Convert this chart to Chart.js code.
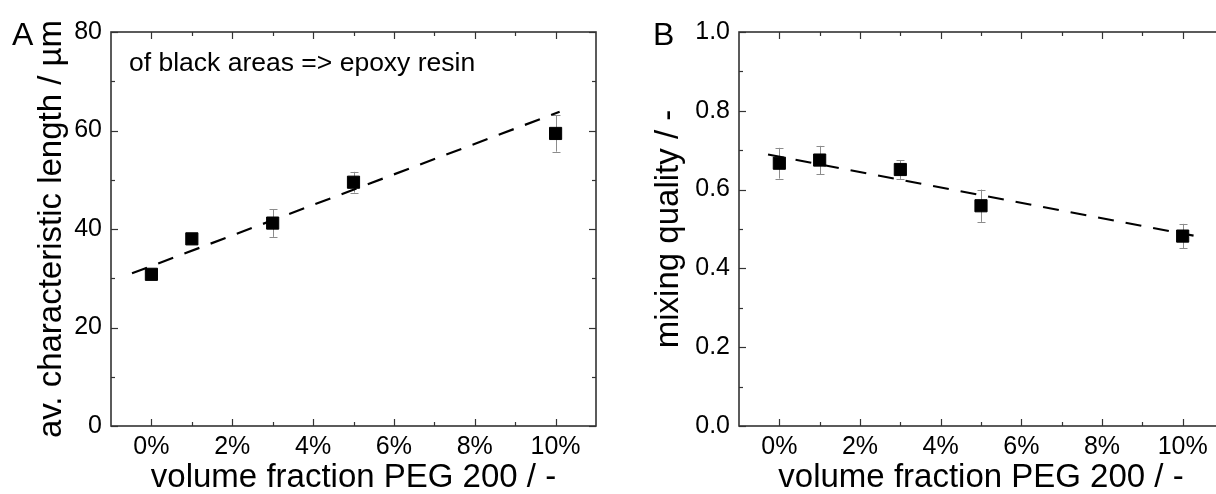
<!DOCTYPE html>
<html>
<head>
<meta charset="utf-8">
<script src="https://cdn.jsdelivr.net/npm/chart.js@4.4.1/dist/chart.umd.min.js"></script>
<style>
  html, body { margin: 0; padding: 0; background: #fff; }
  body { width: 1216px; height: 494px; overflow: hidden; position: relative; }
  .panel { position: absolute; top: 0; }
  #panelA { left: 0; width: 615px; height: 494px; }
  #panelB { left: 615px; width: 630px; height: 494px; }
</style>
</head>
<body>
<div class="panel" id="panelA"><canvas id="chartA" width="615" height="494"></canvas></div>
<div class="panel" id="panelB"><canvas id="chartB" width="630" height="494"></canvas></div>
<script>
// ---- data (volume fraction PEG 200 in %) ----
const categories = [0, 1, 3, 5, 10];
const lengthValues = [30.8, 38.0, 41.2, 49.5, 59.4];
const lengthErrors = [0.8, 0.5, 2.8, 2.1, 3.7];
const lengthFitX = [-0.48, 10.1];
const lengthFitY = [31.0, 63.8];
const qualityValues = [0.667, 0.675, 0.651, 0.559, 0.482];
const qualityErrors = [0.039, 0.036, 0.024, 0.041, 0.031];
const qualityFitX = [-0.28, 10.27];
const qualityFitY = [0.689, 0.483];
const xTicks = [0, 2, 4, 6, 8, 10];
const xMinorTicks = [1, 3, 5, 7, 9];
const lengthTicks = [0, 20, 40, 60, 80];
const lengthMinorTicks = [10, 30, 50, 70];
const qualityTicks = [0, 0.2, 0.4, 0.6, 0.8, 1.0];
const qualityMinorTicks = [0.1, 0.3, 0.5, 0.7, 0.9];
const xTitle = 'volume fraction PEG 200 / -';
const lengthTitle = 'av. characteristic length / µm';
const qualityTitle = 'mixing quality / -';
const annotationText = 'of black areas => epoxy resin';

const FAMILY = "'Liberation Sans', Arial, Helvetica, sans-serif";
const FRAME = '#333333';
Chart.defaults.font.family = FAMILY;
Chart.defaults.color = '#000';

function framePlugin(xMajor, xMinor, yMajor, yMinor) {
  return {
    id: 'frameTicks',
    beforeDatasetsDraw(chart) {
      const { ctx, chartArea: a, scales: { x, y } } = chart;
      ctx.save();
      ctx.strokeStyle = FRAME;
      ctx.lineWidth = 1.2;
      const seg = (x1, y1, x2, y2) => { ctx.beginPath(); ctx.moveTo(x1, y1); ctx.lineTo(x2, y2); ctx.stroke(); };
      const drawX = (vals, len) => vals.forEach(v => {
        const p = Math.round(x.getPixelForValue(v)) + 0.5;
        seg(p, a.bottom, p, a.bottom - len);
        seg(p, a.top, p, a.top + len);
      });
      const drawY = (vals, len) => vals.forEach(v => {
        const p = Math.round(y.getPixelForValue(v)) + 0.5;
        seg(a.left, p, a.left + len, p);
        seg(a.right, p, a.right - len, p);
      });
      drawX(xMajor, 7); drawX(xMinor, 4);
      drawY(yMajor, 7); drawY(yMinor, 4);
      ctx.lineWidth = 1.6;
      ctx.strokeRect(a.left, a.top, a.right - a.left, a.bottom - a.top);
      ctx.restore();
    }
  };
}

function errorBarPlugin(xs, vals, errs) {
  return {
    id: 'errorBars',
    beforeDatasetsDraw(chart) {
      const { ctx, scales: { x, y } } = chart;
      ctx.save();
      ctx.strokeStyle = '#8c8c8c';
      ctx.lineWidth = 1;
      xs.forEach((xv, i) => {
        const px = Math.round(x.getPixelForValue(xv)) + 0.5;
        const top = y.getPixelForValue(vals[i] + errs[i]);
        const bot = y.getPixelForValue(vals[i] - errs[i]);
        ctx.beginPath();
        ctx.moveTo(px, top); ctx.lineTo(px, bot);
        ctx.moveTo(px - 4, Math.round(top) + 0.5); ctx.lineTo(px + 4, Math.round(top) + 0.5);
        ctx.moveTo(px - 4, Math.round(bot) + 0.5); ctx.lineTo(px + 4, Math.round(bot) + 0.5);
        ctx.stroke();
      });
      ctx.restore();
    }
  };
}

function textPlugin(letter, letterX, annotation) {
  return {
    id: 'texts',
    afterDraw(chart) {
      const { ctx, chartArea: a } = chart;
      ctx.save();
      ctx.fillStyle = '#000';
      ctx.textBaseline = 'alphabetic';
      ctx.textAlign = 'left';
      ctx.font = '32px ' + FAMILY;
      ctx.fillText(letter, letterX, 45);
      if (annotation) {
        ctx.font = '26.5px ' + FAMILY;
        ctx.fillText(annotation, a.left + 18, a.top + 39);
      }
      ctx.restore();
    }
  };
}

function makeChart(canvasId, cfg) {
  const ctx = document.getElementById(canvasId);
  const points = categories.map((c, i) => ({ x: c, y: cfg.values[i] }));
  const fit = cfg.fitX.map((fx, i) => ({ x: fx, y: cfg.fitY[i] }));
  return new Chart(ctx, {
    type: 'scatter',
    data: {
      datasets: [
        {
          type: 'line',
          data: fit,
          borderColor: '#000',
          borderWidth: 2.2,
          borderDash: [16, 12],
          pointRadius: 0,
          fill: false,
          order: 2
        },
        {
          data: points,
          pointStyle: 'rect',
          pointRadius: 8.6,
          pointHoverRadius: 8.6,
          backgroundColor: '#000',
          borderColor: '#000',
          borderWidth: 1,
          showLine: false,
          order: 1
        }
      ]
    },
    options: {
      responsive: false,
      animation: false,
      devicePixelRatio: 1,
      layout: { padding: { top: 32, right: cfg.padRight, left: 0, bottom: 0 } },
      plugins: { legend: { display: false }, tooltip: { enabled: false } },
      scales: {
        x: {
          type: 'linear',
          min: -1, max: 11,
          afterBuildTicks: s => { s.ticks = xTicks.map(v => ({ value: v })); },
          afterFit: s => { s.height = 68; },
          ticks: {
            callback: v => v + '%',
            font: { size: 25, family: FAMILY },
            color: '#000',
            padding: 6,
            maxRotation: 0,
            autoSkip: false
          },
          grid: { display: false, drawTicks: false },
          border: { display: false },
          title: {
            display: true, text: xTitle, color: '#000',
            font: { size: 33, family: FAMILY, lineHeight: 1 },
            padding: { top: 0, bottom: 0 }
          }
        },
        y: {
          type: 'linear',
          min: cfg.yMin, max: cfg.yMax,
          afterBuildTicks: s => { s.ticks = cfg.yTicks.map(v => ({ value: v })); },
          afterFit: s => { s.width = cfg.yWidth; },
          ticks: {
            callback: cfg.yFormat,
            font: { size: 25, family: FAMILY },
            color: '#000',
            padding: 9,
            autoSkip: false
          },
          grid: { display: false, drawTicks: false },
          border: { display: false },
          title: {
            display: true, text: cfg.yTitle, color: '#000',
            font: { size: 33, family: FAMILY, lineHeight: 1 },
            padding: { top: cfg.yTitlePad, bottom: 0 }
          }
        }
      }
    },
    plugins: [
      framePlugin(xTicks, xMinorTicks, cfg.yTicks, cfg.yMinor),
      errorBarPlugin(categories, cfg.values, cfg.errors),
      textPlugin(cfg.letter, cfg.letterX, cfg.annotation)
    ]
  });
}

makeChart('chartA', {
  values: lengthValues, errors: lengthErrors,
  fitX: lengthFitX, fitY: lengthFitY,
  yMin: 0, yMax: 80, yTicks: lengthTicks, yMinor: lengthMinorTicks,
  yFormat: v => String(v),
  yTitle: lengthTitle, yWidth: 111, yTitlePad: 35.5, padRight: 19,
  letter: 'A', letterX: 12, annotation: annotationText
});

makeChart('chartB', {
  values: qualityValues, errors: qualityErrors,
  fitX: qualityFitX, fitY: qualityFitY,
  yMin: 0, yMax: 1, yTicks: qualityTicks, yMinor: qualityMinorTicks,
  yFormat: v => Number(v).toFixed(1),
  yTitle: qualityTitle, yWidth: 124, yTitlePad: 37.5, padRight: 22,
  letter: 'B', letterX: 38, annotation: null
});
</script>
</body>
</html>
